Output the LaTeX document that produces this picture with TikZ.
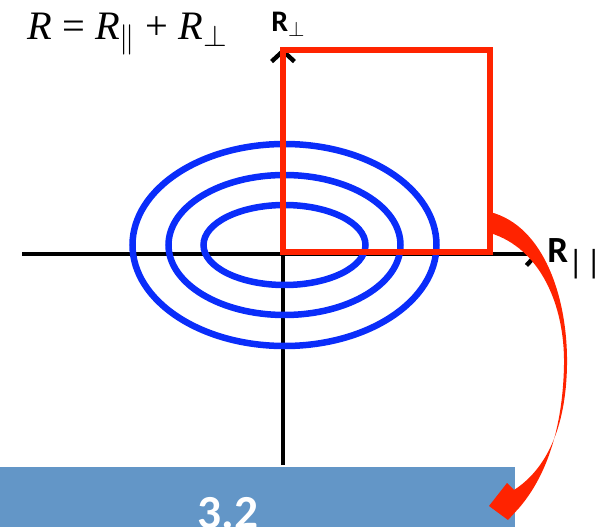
\documentclass[tikz,border=0pt]{standalone}
\usepackage{fontspec}
\setmainfont{Liberation Serif}
\newfontfamily\labelfont{Carlito}
\usetikzlibrary{arrows.meta}

\definecolor{ringblue}{RGB}{10,45,250}
\definecolor{boxred}{RGB}{255,35,0}
\definecolor{barblue}{RGB}{99,150,199}

\newcommand{\vecR}{$\vec{\textit{R}\rule{0pt}{.98em}}$}

\begin{document}
\begin{tikzpicture}[x=.02cm, y=-.02cm,
    axis/.style={line width=2.8pt, -{Straight Barb[length=6pt, width=13pt,
        line width=2.5pt]}},
    ring/.style={draw=ringblue, line width=3.7pt},
    axislabel/.style={font=\labelfont\bfseries\fontsize{#1}{#1}\selectfont,
        inner sep=0, anchor=base west},
]
    \useasboundingbox (0, 0) rectangle (602, 527);

    %% the bar at the bottom
    \fill[barblue] (0, 467) rectangle (515, 530);
    \node[font=\labelfont\bfseries\fontsize{27}{28}\selectfont,
        text=white, anchor=base] (level) at (228, 528) {3.2};

    %% the axes
    \coordinate (west) at (22, 254);
    \coordinate (east) at (540, 254);
    \coordinate (south) at (283, 465);
    \coordinate (north) at (283, 48);
    \draw[axis] (west) -- (east);
    \draw[axis] (south) -- (north);
    \node[axislabel=21] (rpar) at (547, 262)
        {R$_{\mbox{\fontsize{19}{19}\selectfont\mdseries|\kern1.5pt|}}$};
    \node[axislabel=17] (rperp) at (271, 32) {R$_{\perp}$};

    %% the three rings round the centre
    \foreach \rx/\ry in {152/101, 116/70, 81/40}{
        \draw[ring] (284.5, 245) ellipse [x radius=\rx, y radius=\ry];
    }

    %% the quarter that is picked out
    \draw[boxred, line width=3.7pt] (283, 50) rectangle (490, 252);

    %% the bent arrow down to the bar
    \fill[boxred] (490, 212) .. controls (545, 226) and (568, 300)
        .. (567, 365) .. controls (566, 430) and (545, 470) .. (514, 490)
        -- (507, 483) -- (489, 506) -- (508, 520) -- (519, 508)
        .. controls (550, 472) and (563, 420) .. (564, 365)
        .. controls (565, 305) and (540, 248) .. (490, 233) -- cycle;

    %% the sum written at the top
    \node[anchor=base west, inner sep=0,
        font=\fontsize{23}{26}\selectfont] (sum) at (27, 40)
        {\vecR{} = \vecR$_{\parallel}$ + \vecR$_{\perp}$};
\end{tikzpicture}
\end{document}
